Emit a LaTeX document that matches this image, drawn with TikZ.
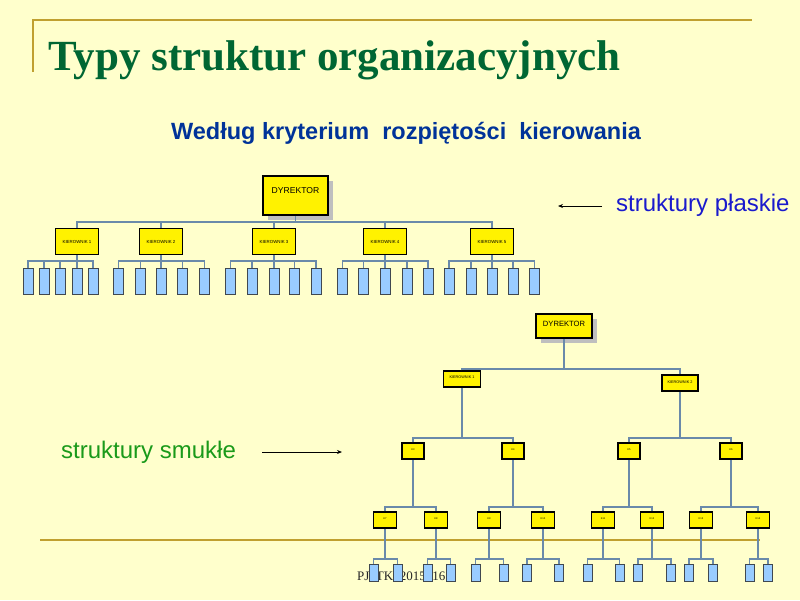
\documentclass[tikz,border=0pt]{standalone}
\usepackage{fontspec}
\setmainfont{Liberation Serif}
\setsansfont{Liberation Sans}
\usetikzlibrary{shadows,arrows.meta}
\definecolor{bg}{HTML}{FFFFCC}
\definecolor{gold}{HTML}{C0A030}
\definecolor{titlegreen}{HTML}{006633}
\definecolor{subblue}{HTML}{003399}
\definecolor{plblue}{HTML}{1A1ACC}
\definecolor{smgreen}{HTML}{1A9A1A}
\definecolor{conn}{HTML}{6A8AAA}
\definecolor{leafblue}{HTML}{99CCFF}
\definecolor{leafedge}{HTML}{404850}
\tikzset{
  ybox/.style={draw=black, line width=1.5pt, fill=yellow, inner sep=0pt, font=\sffamily},
  shad/.style={drop shadow={shadow xshift=5pt, shadow yshift=-5pt, fill=black!25, opacity=1}},
  leaf/.style={draw=leafedge, line width=0.8pt, fill=leafblue, inner sep=0pt},
  conline/.style={draw=conn, line width=1.5pt},
  rule/.style={draw=gold, line width=2pt},
  pointer/.style={draw=black, line width=0.8pt, -{Stealth[length=5pt,width=4pt]}}
}
\begin{document}
\begin{tikzpicture}[x=1pt,y=-1pt]
\fill[bg] (0,0) rectangle (800,600);
\useasboundingbox (0,0) rectangle (800,600);
% rules
\draw[rule] (33,72) -- (33,20) -- (752,20);
\draw[rule] (40,540) -- (760,540);
% texts
\node[anchor=base west, inner sep=0pt, text=titlegreen, font=\fontsize{43}{45}\selectfont\bfseries] (title) at (48,70) {Typy struktur organizacyjnych};
\node[inner sep=0pt, text=subblue, font=\sffamily\bfseries\fontsize{23.5}{26}\selectfont] (sub) at (406,133) {Według kryterium\ \ rozpiętości\ \ kierowania};
\node[anchor=west, inner sep=0pt, text=plblue, font=\sffamily\fontsize{24}{27}\selectfont] (plaskie) at (616,205) {struktury płaskie};
\node[anchor=west, inner sep=0pt, text=smgreen, font=\sffamily\fontsize{24}{27}\selectfont] (smukle) at (61,452) {struktury smukłe};
\coordinate (pa1) at (602,206);
\coordinate (pa2) at (558,206);
\draw[pointer] (pa1) -- (pa2);
\coordinate (sa1) at (262,452);
\coordinate (sa2) at (342,452);
\draw[pointer] (sa1) -- (sa2);
\node[anchor=base west, inner sep=0pt, text=black!85, font=\fontsize{13}{15}\selectfont] (foot) at (357,580) {PJ\ \ TK\ \ 2015\ \ 16};

% ===== flat structure =====
\node[ybox, shad, minimum width=65pt, minimum height=39pt] (D1) at (295.5,195.5) {\fontsize{8.6}{9}\selectfont\raisebox{10pt}{DYREKTOR}};
\foreach \i/\x in {1/77,2/161,3/274,4/385,5/492}{
  \node[ybox, minimum width=43pt, minimum height=26pt] (FK\i) at (\x,241.5) {\fontsize{4.4}{5}\selectfont KIEROWNIK \i};
}
\coordinate (fbar) at (295,222);
\draw[conline] (D1.south) -- (D1.south |- fbar);
\draw[conline] (FK1.north) -- (FK1.north |- fbar) -- (FK5.north |- fbar) -- (FK5.north);
\foreach \i in {2,3,4}{ \draw[conline] (FK\i.north) -- (FK\i.north |- fbar); }
\coordinate (lbar) at (0,261);
\foreach \g/\xa/\xb/\xc/\xd/\xe in {1/28/44/60/77/93, 2/118.5/140.5/161/182.5/204.5, 3/230.5/252/274/294.5/316, 4/342.5/363.5/385/407/428, 5/449/471/492/513/534.5}{
  \node[leaf, minimum width=10pt, minimum height=26pt] (L\g a) at (\xa,281) {};
  \node[leaf, minimum width=10pt, minimum height=26pt] (L\g b) at (\xb,281) {};
  \node[leaf, minimum width=10pt, minimum height=26pt] (L\g c) at (\xc,281) {};
  \node[leaf, minimum width=10pt, minimum height=26pt] (L\g d) at (\xd,281) {};
  \node[leaf, minimum width=10pt, minimum height=26pt] (L\g e) at (\xe,281) {};
  \draw[conline] (FK\g.south) -- (FK\g.south |- lbar);
  \draw[conline] (L\g a.north) -- (L\g a.north |- lbar) -- (L\g e.north |- lbar) -- (L\g e.north);
  \foreach \s in {b,c,d}{ \draw[conline] (L\g \s.north) -- (L\g \s.north |- lbar); }
}

% ===== tall structure =====
\node[ybox, shad, minimum width=56pt, minimum height=24pt] (D2) at (564,326) {\fontsize{7.6}{8}\selectfont\raisebox{5pt}{DYREKTOR}};
\node[ybox, minimum width=37pt, minimum height=16pt] (TK1) at (462,379) {\fontsize{3.8}{4}\selectfont\raisebox{3pt}{KIEROWNIK 1}};
\node[ybox, minimum width=36pt, minimum height=16pt] (TK2) at (680,383) {\fontsize{3.8}{4}\selectfont\raisebox{2pt}{KIEROWNIK 2}};
\coordinate (tbar1) at (0,369);
\draw[conline] (D2.south) -- (D2.south |- tbar1);
\draw[conline] (TK1.north) -- (TK1.north |- tbar1) -- (TK2.north |- tbar1) -- (TK2.north);
\foreach \n/\x in {3/413,4/513,5/629,6/731}{
  \node[ybox, minimum width=22pt, minimum height=16pt] (TK\n) at (\x,451) {\fontsize{2.6}{3}\selectfont\raisebox{3pt}{K\n}};
}
\coordinate (tbar2) at (0,438);
\foreach \p/\a/\b in {1/3/4, 2/5/6}{
  \draw[conline] (TK\p.south) -- (TK\p.south |- tbar2);
  \draw[conline] (TK\a.north) -- (TK\a.north |- tbar2) -- (TK\b.north |- tbar2) -- (TK\b.north);
}
\foreach \n/\x in {7/385,8/436,9/489,10/543,11/603,12/652,13/701,14/758}{
  \node[ybox, minimum width=23pt, minimum height=16pt] (TK\n) at (\x,520) {\fontsize{2.6}{3}\selectfont\raisebox{3pt}{K\n}};
}
\coordinate (tbar3) at (0,507);
\foreach \p/\a/\b in {3/7/8, 4/9/10, 5/11/12, 6/13/14}{
  \draw[conline] (TK\p.south) -- (TK\p.south |- tbar3);
  \draw[conline] (TK\a.north) -- (TK\a.north |- tbar3) -- (TK\b.north |- tbar3) -- (TK\b.north);
}
\coordinate (tbar4) at (0,559);
\foreach \p/\xa/\xb in {7/373.5/397.5, 8/427.5/450.5, 9/475.5/503.5, 10/527/559, 11/587.5/619.5, 12/638/671, 13/689/713, 14/749.5/768}{
  \node[leaf, minimum width=9pt, minimum height=17pt] (TL\p a) at (\xa,572.5) {};
  \node[leaf, minimum width=9pt, minimum height=17pt] (TL\p b) at (\xb,572.5) {};
  \draw[conline] (TK\p.south) -- (TK\p.south |- tbar4);
  \draw[conline] (TL\p a.north) -- (TL\p a.north |- tbar4) -- (TL\p b.north |- tbar4) -- (TL\p b.north);
}
\end{tikzpicture}
\end{document}
